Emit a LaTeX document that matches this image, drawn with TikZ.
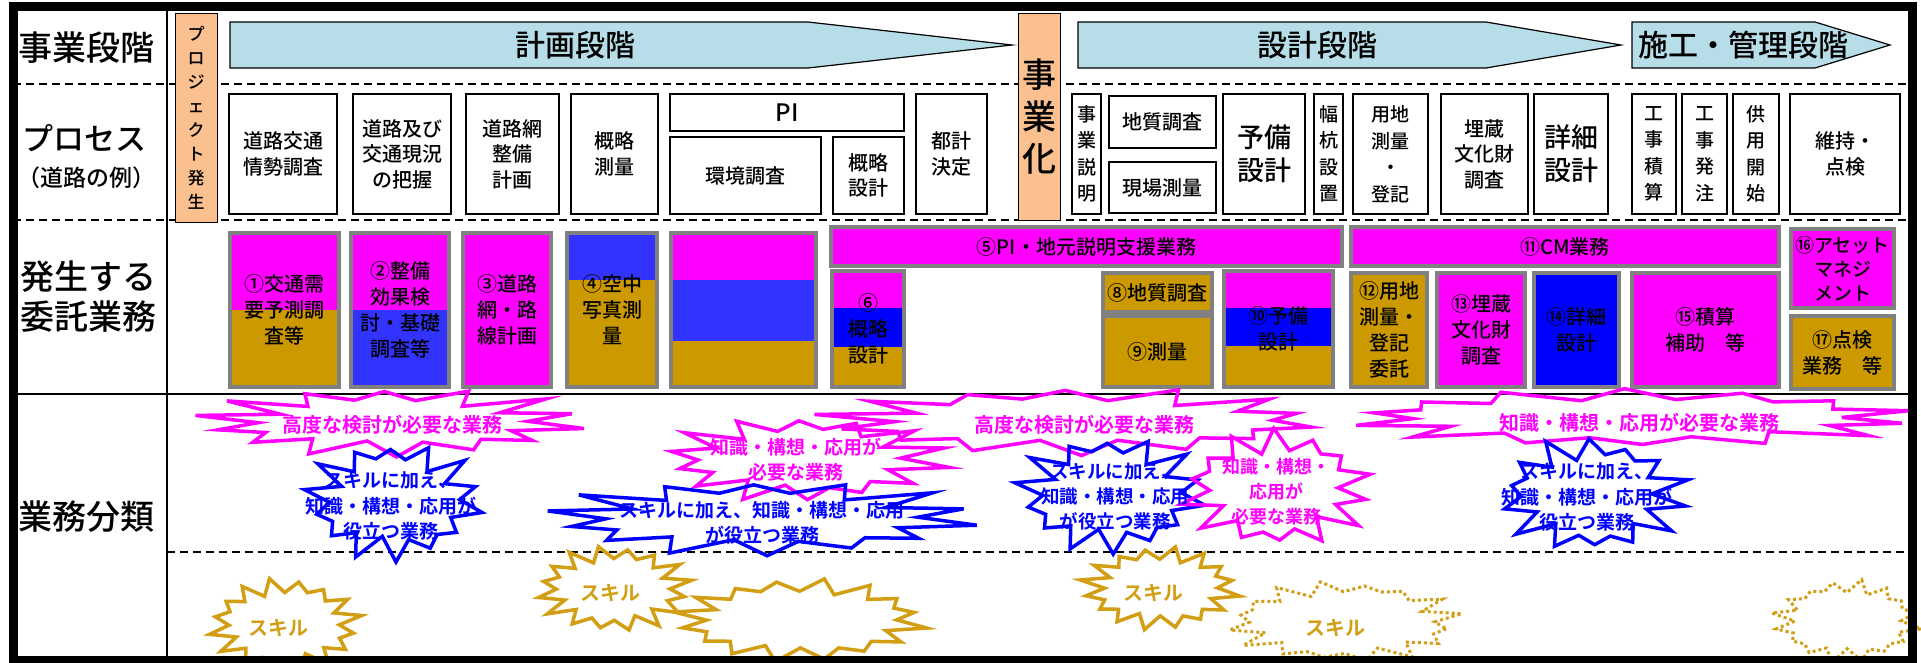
\documentclass[tikz,border=0pt]{standalone}
\usepackage{fontspec}
\setmainfont{Noto Sans CJK JP}
\newfontfamily\jpbold{Noto Sans CJK JP Bold}
\newfontfamily\jpmed{Noto Sans CJK JP Medium}
\definecolor{mag}{RGB}{255,0,255}
\definecolor{blueA}{RGB}{51,51,255}
\definecolor{blueB}{RGB}{0,0,255}
\definecolor{goldF}{RGB}{204,153,0}
\definecolor{goldL}{RGB}{210,158,20}
\definecolor{peach}{RGB}{250,192,144}
\definecolor{bannerC}{RGB}{183,222,232}
\definecolor{gborder}{RGB}{128,128,128}
\newcommand{\fs}[2]{\fontsize{#1}{#2}\selectfont}
\newcommand{\bx}[7]{\node[#1, minimum width={(#5-#3)*1pt}, minimum height={(#6-#4)*1pt}] (#2) at ({(#3+#5)/2},{(#4+#6)/2}) {#7};}
% style, cx, cy, rx, ry, rx inner, ry inner, points, irregularity
\newcommand{\burst}[9]{%
  \pgfmathtruncatemacro{\bN}{2*#8-1}%
  \draw[#1] plot[samples at={0,...,\bN}, variable=\k]
   ({#2 + ifthenelse(mod(\k,2)==0,#4,#6)*(1+#9*sin(\k*137+#2))*cos(\k*180/#8+11)},
    {#3 + ifthenelse(mod(\k,2)==0,#5,#7)*(1+#9*sin(\k*137+#2))*sin(\k*180/#8+11)}) -- cycle;}
\begin{document}
\begin{tikzpicture}[x=1pt,y=-1pt,
  proc/.style={draw=black, line width=1.2pt, fill=white, inner sep=0pt, align=center, font=\jpmed\fs{20}{25.5}},
  vproc/.style={proc, font=\jpmed\fs{19}{26.5}},
  obox/.style={draw=black, line width=1pt, fill=peach, inner sep=0pt, align=center},
  tbox/.style={draw=gborder, line width=4pt, inner sep=0pt, align=center, font=\jpmed\fs{20}{26}},
  bannerbox/.style={draw=black, line width=1.2pt, fill=bannerC},
  lbl/.style={font=\jpmed\fs{34}{40}, align=center},
  pinkS/.style={draw=mag, line width=3.5pt},
  blueS/.style={draw=blueB, line width=3.5pt},
  goldS/.style={draw=goldL, line width=3.5pt},
  goldD/.style={draw=goldL, line width=3pt, dash pattern=on 3pt off 3pt},
  pinkT/.style={text=mag, font=\jpbold\fs{20}{25}, align=center, inner sep=0pt},
  blueT/.style={text=blueB, font=\jpbold\fs{19}{25.5}, align=center, inner sep=0pt},
  goldT/.style={text=goldL, font=\jpbold\fs{20}{24}, inner sep=0pt},
  dline/.style={line width=1.4pt, dash pattern=on 8pt off 5pt}
]
\useasboundingbox (0,0) rectangle (1921,662);
\fill[white] (0,0) rectangle (1921,662);

% grid lines
\draw[dline] (13,84) -- (1912,84);
\draw[dline] (13,220) -- (1912,220);
\draw[line width=1.5pt] (13,394) -- (1912,394);
\draw[dline] (167,552) -- (1912,552);
\draw[line width=1.2pt] (167,6) -- (167,660);

% left labels
\node[lbl] (l1) at (86,48) {事業段階};
\node[font=\jpmed\fs{31}{36}] (l2) at (84,138) {プロセス};
\node[font=\jpmed\fs{23}{28}] (l2b) at (86,178) {（道路の例）};
\node[lbl] (l3) at (88,297) {発生する\\委託業務};
\node[lbl] (l4) at (86,517) {業務分類};

% banners
\draw[bannerbox] (230,22) -- (808,22) -- (1012,45) -- (808,68) -- (230,68) -- cycle;
\node[font=\jpmed\fs{30}{34}] (s1) at (575,45) {計画段階};
\draw[bannerbox] (1078,22) -- (1486,22) -- (1621,45) -- (1486,68) -- (1078,68) -- cycle;
\node[font=\jpmed\fs{30}{34}] (s2) at (1317,45) {設計段階};
\draw[bannerbox] (1632,22) -- (1815,22) -- (1890,45) -- (1815,68) -- (1632,68) -- cycle;
\node[font=\jpmed\fs{30}{34}] (s3) at (1743,45) {施工・管理段階};

% orange boxes
\bx{obox, font=\jpmed\fs{17}{24}}{o1}{175}{13}{217}{222}{プ\\ロ\\ジ\\ェ\\ク\\ト\\発\\生}
\bx{obox, font=\jpmed\fs{34}{42}}{o2}{1018}{13}{1060}{220}{事\\業\\化}

% process boxes
\bx{proc}{p1}{229}{94}{337}{214}{道路交通\\情勢調査}
\bx{proc}{p2}{353}{94}{451}{214}{道路及び\\交通現況\\の把握}
\bx{proc}{p3}{466}{94}{559}{214}{道路網\\整備\\計画}
\bx{proc}{p4}{571}{94}{658}{214}{概略\\測量}
\bx{proc, font=\jpmed\fs{24}{28}}{p5}{670}{94}{904}{131}{PI}
\bx{proc}{p6}{670}{137}{821}{214}{環境調査}
\bx{proc}{p7}{833}{137}{904}{214}{概略\\設計}
\bx{proc}{p8}{916}{94}{987}{214}{都計\\決定}
\bx{vproc}{p9}{1072}{94}{1101}{214}{事\\業\\説\\明}
\bx{proc}{p10}{1109}{96}{1216}{148}{地質調査}
\bx{proc}{p11}{1109}{162}{1216}{213}{現場測量}
\bx{proc, font=\jpmed\fs{27}{33}}{p12}{1223}{94}{1305}{214}{予備\\設計}
\bx{vproc}{p13}{1314}{94}{1343}{214}{幅\\杭\\設\\置}
\bx{vproc}{p14}{1353}{94}{1428}{214}{用地\\測量\\・\\登記}
\bx{proc}{p15}{1441}{94}{1528}{214}{埋蔵\\文化財\\調査}
\bx{proc, font=\jpmed\fs{27}{33}}{p16}{1534}{94}{1608}{214}{詳細\\設計}
\bx{vproc}{p17}{1632}{94}{1676}{214}{工\\事\\積\\算}
\bx{vproc}{p18}{1682}{94}{1727}{214}{工\\事\\発\\注}
\bx{vproc}{p19}{1733}{94}{1779}{214}{供\\用\\開\\始}
\bx{proc}{p20}{1790}{94}{1900}{214}{維持・\\点検}

% row 3 fills
\fill[mag] (230,233) rectangle (339,310); \fill[goldF] (230,310) rectangle (339,387);
\fill[mag] (351,233) rectangle (449,310); \fill[blueA] (351,310) rectangle (449,387);
\fill[mag] (463,233) rectangle (551,387);
\fill[blueA] (567,233) rectangle (657,280); \fill[goldF] (567,280) rectangle (657,387);
\fill[mag] (671,233) rectangle (816,280); \fill[blueA] (671,280) rectangle (816,341); \fill[goldF] (671,341) rectangle (816,387);
\fill[mag] (831,227) rectangle (1342,266);
\fill[mag] (832,271) rectangle (904,308); \fill[blueB] (832,308) rectangle (904,347); \fill[goldF] (832,347) rectangle (904,387);
\fill[goldF] (1103,273) rectangle (1212,312);
\fill[goldF] (1103,316) rectangle (1212,387);
\fill[mag] (1224,271) rectangle (1333,308); \fill[blueB] (1224,308) rectangle (1333,346); \fill[goldF] (1224,346) rectangle (1333,387);
\fill[mag] (1351,227) rectangle (1779,266);
\fill[goldF] (1351,273) rectangle (1427,387);
\fill[mag] (1437,273) rectangle (1525,387);
\fill[blueB] (1534,273) rectangle (1619,387);
\fill[mag] (1632,273) rectangle (1779,387);
\fill[mag] (1791,229) rectangle (1894,308);
\fill[goldF] (1791,316) rectangle (1894,389);

% row 3 boxes
\bx{tbox}{b1}{230}{233}{339}{387}{①交通需\\要予測調\\査等}
\bx{tbox}{b2}{351}{233}{449}{387}{②整備\\効果検\\討・基礎\\調査等}
\bx{tbox}{b3}{463}{233}{551}{387}{③道路\\網・路\\線計画}
\bx{tbox}{b4}{567}{233}{657}{387}{④空中\\写真測\\量}
\bx{tbox}{b5x}{671}{233}{816}{387}{}
\bx{tbox}{b5}{831}{227}{1342}{266}{⑤PI・地元説明支援業務}
\bx{tbox}{b6}{832}{271}{904}{387}{⑥\\概略\\設計}
\bx{tbox}{b8}{1103}{273}{1212}{312}{⑧地質調査}
\bx{tbox}{b9}{1103}{316}{1212}{387}{⑨測量}
\bx{tbox}{b10}{1224}{271}{1333}{387}{⑩予備\\設計}
\bx{tbox}{b11}{1351}{227}{1779}{266}{⑪CM業務}
\bx{tbox}{b12}{1351}{273}{1427}{387}{⑫用地\\測量・\\登記\\委託}
\bx{tbox}{b13}{1437}{273}{1525}{387}{⑬埋蔵\\文化財\\調査}
\bx{tbox}{b14}{1534}{273}{1619}{387}{⑭詳細\\設計}
\bx{tbox}{b15}{1632}{273}{1779}{387}{⑮積算\\補助　等}
\bx{tbox, font=\jpmed\fs{19}{24}}{b16}{1791}{229}{1894}{308}{⑯アセット\\マネジ\\メント}
\bx{tbox}{b17}{1791}{316}{1894}{389}{⑰点検\\業務　等}

% row 4 bursts
\burst{pinkS}{390}{422}{190}{33}{130}{21}{14}{0.08}
\burst{blueS}{393}{501}{86}{57}{62}{40}{14}{0.1}
\burst{pinkS}{803}{459}{138}{41}{98}{28}{14}{0.08}
\burst{blueS}{760}{518}{210}{36}{150}{24}{14}{0.08}
\burst{pinkS}{1073}{421}{245}{32}{185}{21}{14}{0.08}
\burst{blueS}{1110}{494}{92}{56}{66}{40}{14}{0.1}
\burst{pinkS}{1277}{489}{93}{56}{67}{40}{14}{0.1}
\burst{pinkS}{1634}{418}{277}{28}{220}{19}{14}{0.06}
\burst{blueS}{1592}{495}{91}{55}{66}{39}{14}{0.1}
\burst{goldS}{285}{625}{74}{45}{56}{33}{16}{0.06}
\burst{goldS}{614}{589}{76}{42}{56}{30}{16}{0.06}
\burst{goldS}{800}{620}{122}{40}{96}{29}{16}{0.06}
\burst{goldS}{1160}{588}{77}{40}{57}{29}{16}{0.06}
\burst{goldD}{1344}{622}{113}{39}{92}{30}{16}{0.08}
\burst{goldD}{1847}{621}{71}{39}{56}{30}{16}{0.08}

% row 4 texts
\node[pinkT] (t1) at (392,425) {高度な検討が必要な業務};
\node[blueT] (t2) at (391,506) {スキルに加え、\\知識・構想・応用が\\役立つ業務};
\node[pinkT, font=\jpbold\fs{19}{25}] (t3) at (796,460) {知識・構想・応用が\\必要な業務};
\node[blueT] (t4) at (762,523) {スキルに加え、知識・構想・応用\\が役立つ業務};
\node[pinkT] (t5) at (1084,425) {高度な検討が必要な業務};
\node[blueT, font=\jpbold\fs{18.5}{25}] (t6) at (1115,497) {スキルに加え、\\知識・構想・応用\\が役立つ業務};
\node[pinkT, font=\jpbold\fs{18}{25}] (t7) at (1276,492) {知識・構想・\\応用が\\必要な業務};
\node[pinkT] (t8) at (1639,423) {知識・構想・応用が必要な業務};
\node[blueT] (t9) at (1587,497) {スキルに加え、\\知識・構想・応用が\\役立つ業務};
\node[goldT] (g1) at (278,628) {スキル};
\node[goldT] (g2) at (610,593) {スキル};
\node[goldT] (g4) at (1153,593) {スキル};
\node[goldT] (g5) at (1335,628) {スキル};

% frame
\draw[line width=9pt] (13,6) rectangle (1912,660);
\end{tikzpicture}
\end{document}
